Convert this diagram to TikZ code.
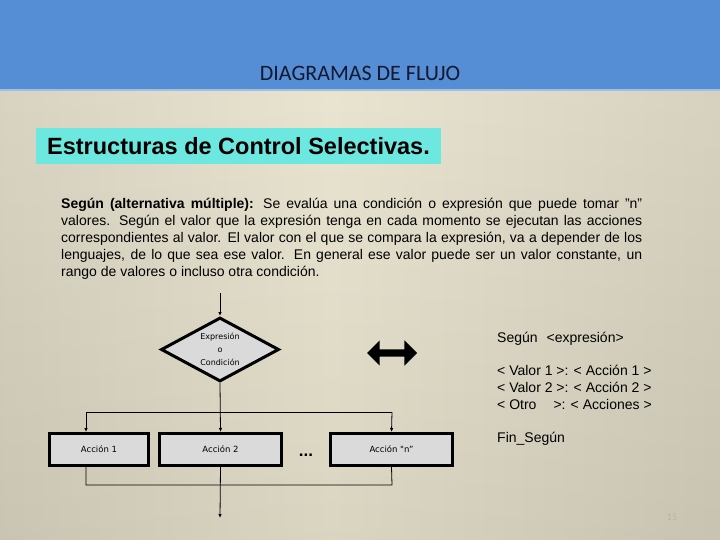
\documentclass[tikz,border=0pt]{standalone}
\usepackage{fontspec}
\setmainfont{Liberation Sans}
\newfontfamily\titlefont{Carlito}
\newfontfamily\pixfont{DejaVu Sans}
\usetikzlibrary{arrows.meta,shapes.geometric,shapes.arrows}
\definecolor{bandblue}{RGB}{85,142,213}
\definecolor{bandline}{RGB}{160,192,224}
\definecolor{titleink}{RGB}{20,24,48}
\definecolor{headcyan}{RGB}{108,232,224}
\definecolor{bglight}{RGB}{232,227,206}
\definecolor{bgmid}{RGB}{212,207,188}
\definecolor{bgdark}{RGB}{162,160,144}
\definecolor{boxgrey}{RGB}{218,218,218}
\definecolor{pagegrey}{RGB}{182,180,166}
\pgfdeclarehorizontalshading{fondo}{100bp}{color(0bp)=(bgdark); color(22bp)=(bgmid);
  color(48bp)=(bglight); color(76bp)=(bgmid); color(100bp)=(bgdark)}

\begin{document}
\begin{tikzpicture}[x=1pt, y=-1pt,
    accion/.style={rectangle, draw=black, line width=3pt, fill=boxgrey,
                   minimum width=122pt, minimum height=32pt, inner sep=0pt,
                   font=\pixfont\fontsize{8.5}{10}\selectfont},
    decision/.style={diamond, draw=black, line width=3pt, fill=boxgrey, aspect=1.8,
                     minimum width=118pt, minimum height=64pt, inner sep=0pt,
                     align=center, font=\pixfont\fontsize{8}{13}\selectfont},
    linea/.style={black, line width=0.8pt},
    flecha/.style={linea, -{Latex[length=4pt,width=3.5pt]}},
    texto/.style={anchor=north west, inner sep=0pt, align=left,
                  font=\fontsize{13.5}{16.7}\selectfont}]
\useasboundingbox (0,0) rectangle (720,540);

% fondo
\shade[shading=fondo] (0,90) rectangle (720,540);
\shade[top color=white, bottom color=black, opacity=0.06] (0,90) rectangle (720,540);
\fill[bandblue] (0,0) rectangle (720,90);
\fill[bandline] (0,89) rectangle (720,91);

\node[font=\titlefont\fontsize{22}{24}\selectfont, text=titleink] (titulo) at (360,73) {DIAGRAMAS DE FLUJO};

\node[fill=headcyan, minimum width=405pt, minimum height=36pt, inner sep=0pt,
      font=\bfseries\fontsize{23.5}{26}\selectfont] (encabezado) at (238.5,146) {Estructuras de Control Selectivas.};

\node[texto, text width=581pt, align=justify, font=\fontsize{14}{17}\selectfont] (parrafo) at (61,198)
  {\textbf{Según (alternativa múltiple):} Se evalúa una condición o expresión que puede tomar "n"\linebreak
   valores. Según el valor que la expresión tenga en cada momento se ejecutan las acciones\linebreak
   correspondientes al valor. El valor con el que se compara la expresión, va a depender de los\linebreak
   lenguajes, de lo que sea ese valor. En general ese valor puede ser un valor constante, un\linebreak
   rango de valores o incluso otra condición.\par};

% diagrama
\node[decision] (cond) at (220,349.5) {Expresión\\o\\Condición};
\node[accion, minimum width=99pt] (a1) at (99,449.5) {Acción 1};
\node[accion] (a2) at (220.5,449.5) {Acción 2};
\node[accion] (an) at (391.5,449.5) {Acción "n”};
\node[font=\bfseries\fontsize{17}{17}\selectfont] (puntos) at (306,455) {...};

\coordinate (entrada) at (220,293);
\coordinate (salida) at (220,518);
\coordinate (izq) at (86,412);
\coordinate (der) at (392,412);
\coordinate (izqb) at (86,485);
\coordinate (derb) at (392,485);

\draw[flecha] (entrada) -- (cond.north);
\draw[flecha] (cond.south) -- (a2.north);
\draw[linea] (izq) -- (der);
\draw[flecha] (izq) -- (izq |- a1.north);
\draw[flecha] (der) -- (an.north);
\draw[linea] (izq |- a1.south) -- (izqb) -- (derb) -- (an.south);
\draw[flecha] (a2.south) -- (salida);

\node[double arrow, fill=black, minimum height=50pt, double arrow head extend=9pt,
      inner sep=0pt] (equiv) at (392,353) {\rule{0pt}{7pt}};

\node[texto, font=\fontsize{14}{16.7}\selectfont] (pseudo) at (497,332)
  {Según\hspace{9pt}<expresión>\\[16.7pt]
   < Valor 1 >: < Acción 1 >\\
   < Valor 2 >: < Acción 2 >\\
   < Otro\hspace{17pt}>: < Acciones >\\[16.7pt]
   Fin\_Según};

\node[font=\titlefont\fontsize{10}{12}\selectfont, text=pagegrey] (pagina) at (672,517) {15};
\end{tikzpicture}
\end{document}
